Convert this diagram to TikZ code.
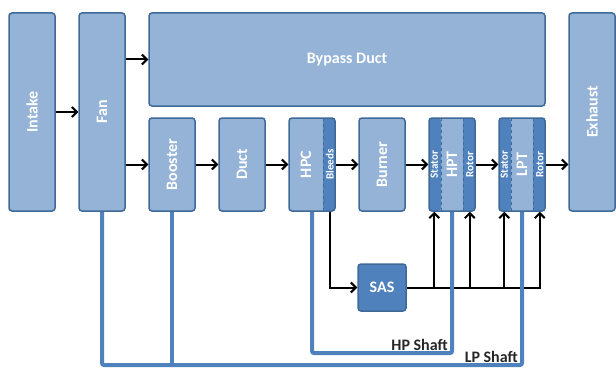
\documentclass[tikz,border=0pt]{standalone}
\usepackage{fontspec}
\setmainfont{Carlito}
\usetikzlibrary{arrows.meta}
\definecolor{boxfill}{HTML}{95B3D7}
\definecolor{boxline}{HTML}{3F6A98}
\definecolor{stripfill}{HTML}{4F81BD}
\newcommand{\vt}[1]{\rotatebox{90}{#1}}
\tikzset{block/.style     = {rectangle, draw=boxline, line width=1.5pt, fill=boxfill, rounded corners=3pt,
		minimum width=46pt, minimum height=93pt, inner sep=0pt, text=white, font=\fontsize{16}{19}\selectfont\bfseries},
	tall/.style      = {block, minimum height=198pt},
	sasbox/.style    = {block, fill=stripfill, minimum width=48pt, minimum height=47pt},
	stripright/.style = {path picture={
		\fill[stripfill] ([xshift=-12pt]path picture bounding box.north east) rectangle (path picture bounding box.south east);
		\draw[boxline, dashed, line width=1pt] ([xshift=-12pt]path picture bounding box.north east) -- ([xshift=-12pt]path picture bounding box.south east);}},
	stripboth/.style = {path picture={
		\fill[stripfill] ([xshift=-12pt]path picture bounding box.north east) rectangle (path picture bounding box.south east);
		\fill[stripfill] (path picture bounding box.north west) rectangle ([xshift=12pt]path picture bounding box.south west);
		\draw[boxline, dashed, line width=1pt] ([xshift=-12pt]path picture bounding box.north east) -- ([xshift=-12pt]path picture bounding box.south east);
		\draw[boxline, dashed, line width=1pt] ([xshift=12pt]path picture bounding box.north west) -- ([xshift=12pt]path picture bounding box.south west);}},
	striptext/.style = {inner sep=0pt, text=white, font=\fontsize{11}{13}\selectfont\bfseries},
	shafttext/.style = {inner sep=1pt, text=black!85, font=\fontsize{16}{19}\selectfont\bfseries},
	flow/.style      = {draw, black, line width=2pt, -{Straight Barb[length=5pt,width=10pt]}},
	shaft/.style     = {draw, stripfill, line width=4pt, rounded corners=2pt}
}
\begin{document}
\begin{tikzpicture}[x=1pt, y=-1pt, node distance=70pt]
		\useasboundingbox (0,0) rectangle (616,369);
		\node [tall] (intake) at (32,112) {\vt{Intake}};
		\node [tall, right of=intake] (fan) {\vt{Fan}};
		\node [block, minimum width=396pt] (bypass) at (347,59.5) {Bypass Duct};
		\node [block] (booster) at (172,164.5) {\vt{Booster}};
		\node [block, right of=booster] (duct) {\vt{Duct}};
		\node [block, stripright, right of=duct] (hpc) {\hspace*{-12pt}\vt{HPC}};
		\node [block, right of=hpc] (burner) {\vt{Burner}};
		\node [block, stripboth, right of=burner] (hpt) {\vt{HPT}};
		\node [block, stripboth, right of=hpt] (lpt) {\vt{LPT}};
		\node [tall] (exhaust) at (592,112) {\vt{Exhaust}};
		\node [sasbox, below of=burner, node distance=123pt] (sas) {SAS};
		\node [striptext] (hpcbl) at ([xshift=-6pt]hpc.east) {\vt{Bleeds}};
		\node [striptext] (hptst) at ([xshift=6pt]hpt.west) {\vt{Stator}};
		\node [striptext] (hptro) at ([xshift=-6pt]hpt.east) {\vt{Rotor}};
		\node [striptext] (lptst) at ([xshift=6pt]lpt.west) {\vt{Stator}};
		\node [striptext] (lptro) at ([xshift=-6pt]lpt.east) {\vt{Rotor}};
		\coordinate (hpline) at (0,353);
		\coordinate (lpline) at (0,365);
		\path[flow] (intake) -- (fan);
		\path[flow] (fan.east |- bypass) -- (bypass.west);
		\path[flow] (fan.east |- booster) -- (booster.west);
		\path[flow] (booster) -- (duct);
		\path[flow] (duct) -- (hpc);
		\path[flow] (hpc) -- (burner);
		\path[flow] (burner) -- (hpt);
		\path[flow] (hpt) -- (lpt);
		\path[flow] (lpt) -- (exhaust.west |- lpt);
		\path[flow] (hpcbl |- hpc.south) |- (sas.west);
		\path[flow] (sas.east) -| (lptro |- lpt.south);
		\foreach \s in {hptst,hptro,lptst}
			\path[flow] (\s |- sas) -- (\s |- hpt.south);
		\path[shaft] (hpc.south) |- (hpt |- hpline) -- (hpt.south);
		\path[shaft] (fan.south) |- (lpt |- lpline) -- (lpt.south);
		\path[shaft] (booster.south) -- (booster |- lpline);
		\node [shafttext, above left] (hplabel) at ([xshift=-3pt,yshift=1pt]hpt |- hpline) {HP Shaft};
		\node [shafttext, above left] (lplabel) at ([xshift=-3pt,yshift=1pt]lpt |- lpline) {LP Shaft};
	\end{tikzpicture}
\end{document}
